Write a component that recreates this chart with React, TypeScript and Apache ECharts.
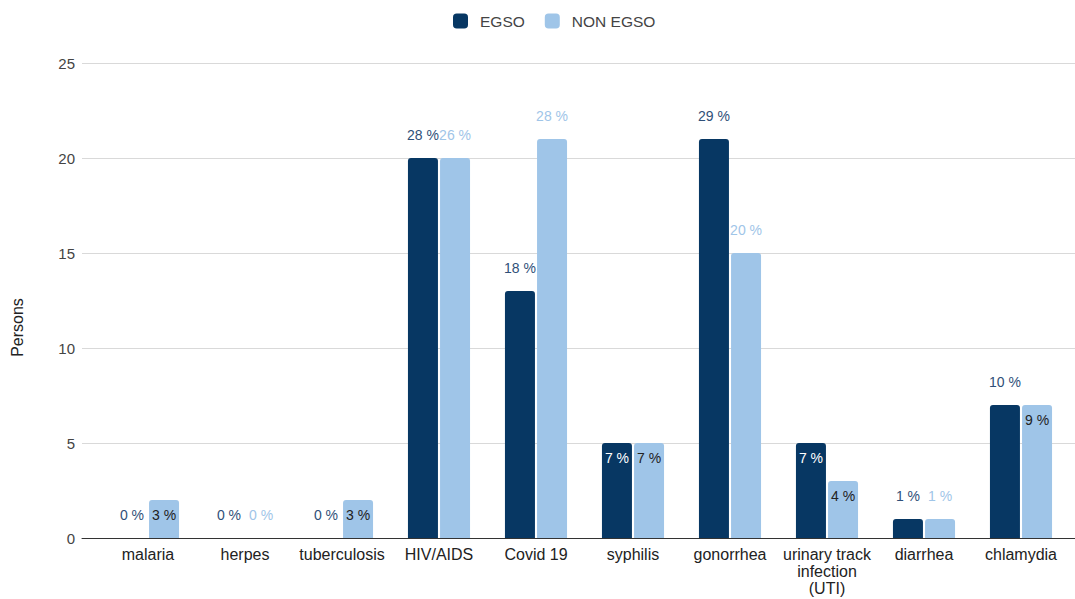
import React, { useEffect, useRef } from "react";
import * as echarts from "echarts";

const categories = [
  "malaria",
  "herpes",
  "tuberculosis",
  "HIV/AIDS",
  "Covid 19",
  "syphilis",
  "gonorrhea",
  "urinary track\ninfection\n(UTI)",
  "diarrhea",
  "chlamydia",
];
const egsoValues = [0, 0, 0, 20, 13, 5, 21, 5, 1, 7];
const nonEgsoValues = [2, 0, 2, 20, 21, 5, 15, 3, 1, 7];
const egsoPct = ["0 %", "0 %", "0 %", "28 %", "18 %", "7 %", "29 %", "7 %", "1 %", "10 %"];
const nonEgsoPct = ["3 %", "0 %", "3 %", "26 %", "28 %", "7 %", "20 %", "4 %", "1 %", "9 %"];
// labels that were placed inside the bar top
const egsoInside = [5, 7];
const nonEgsoInside = [0, 2, 5, 7, 9];
const yTicks = [0, 5, 10, 15, 20, 25];

const EGSO = "#073763";
const NON = "#9fc5e8";
const FONT = "'Liberation Sans', Arial, sans-serif";

function buildData(values: number[], pct: string[], inside: number[], color: string, insideColor: string) {
  return values.map((v, i) => {
    const isIn = inside.includes(i);
    return {
      value: v,
      label: {
        show: true,
        formatter: pct[i],
        position: isIn ? "insideTop" : "top",
        distance: isIn ? 8 : 16,
        color: isIn ? insideColor : color === EGSO ? "#2f4f78" : color,
        fontSize: 14,
        fontFamily: FONT,
      },
    };
  });
}

export default function App() {
  const ref = useRef<HTMLDivElement>(null);
  useEffect(() => {
    document.body.style.margin = "0";
    const chart = echarts.init(ref.current!, null, { renderer: "svg" });
    chart.setOption({
      animation: false,
      backgroundColor: "#ffffff",
      legend: {
        top: 8,
        left: 448,
        itemWidth: 15,
        itemHeight: 15,
        itemGap: 20,
        icon: "roundRect",
        textStyle: { fontSize: 15.5, color: "#444", fontFamily: FONT, padding: [0, 0, 0, 7] },
        data: ["EGSO", "NON EGSO"],
      },
      grid: [
        { left: 82, right: 0, top: 63, bottom: 61 },
        { left: 99.5, right: 5.5, top: 63, bottom: 61 },
      ],
      xAxis: [
        {
          gridIndex: 0,
          type: "value",
          min: 0,
          max: 1,
          axisLabel: { show: false },
          axisTick: { show: false },
          splitLine: { show: false },
          axisLine: { show: true, lineStyle: { color: "#333", width: 1 } },
        },
        {
          gridIndex: 1,
          type: "category",
          data: categories,
          axisLine: { show: false },
          axisTick: { show: false },
          axisLabel: {
            color: "#222",
            fontSize: 16,
            fontFamily: FONT,
            margin: 8,
            lineHeight: 17,
            interval: 0,
          },
        },
      ],
      yAxis: [
        {
          gridIndex: 0,
          type: "value",
          min: yTicks[0],
          max: yTicks[yTicks.length - 1],
          interval: 5,
          name: "Persons",
          nameLocation: "middle",
          nameGap: 57,
          nameTextStyle: {
            fontSize: 16,
            color: "#222",
            fontFamily: FONT,
            padding: [0, 54, 0, 0],
          },
          axisLine: { show: false },
          axisTick: { show: false },
          axisLabel: { color: "#444", fontSize: 15, fontFamily: FONT, margin: 7 },
          splitLine: { lineStyle: { color: "#d9d9d9", width: 1 } },
        },
        {
          gridIndex: 1,
          type: "value",
          min: yTicks[0],
          max: yTicks[yTicks.length - 1],
          interval: 5,
          show: false,
          splitLine: { show: false },
        },
      ],
      series: [
        {
          name: "EGSO",
          type: "bar",
          xAxisIndex: 1,
          yAxisIndex: 1,
          barWidth: 30,
          barGap: "7%",
          itemStyle: { color: EGSO, borderRadius: [3, 3, 0, 0] },
          data: buildData(egsoValues, egsoPct, egsoInside, EGSO, "#ffffff"),
        },
        {
          name: "NON EGSO",
          type: "bar",
          xAxisIndex: 1,
          yAxisIndex: 1,
          barWidth: 30,
          barGap: "7%",
          itemStyle: { color: NON, borderRadius: [3, 3, 0, 0] },
          data: buildData(nonEgsoValues, nonEgsoPct, nonEgsoInside, NON, "#222222"),
        },
      ],
    });
    return () => chart.dispose();
  }, []);
  return (
    <div
      ref={ref}
      style={{ position: "absolute", left: 0, top: 0, width: 1075, height: 599 }}
    />
  );
}
